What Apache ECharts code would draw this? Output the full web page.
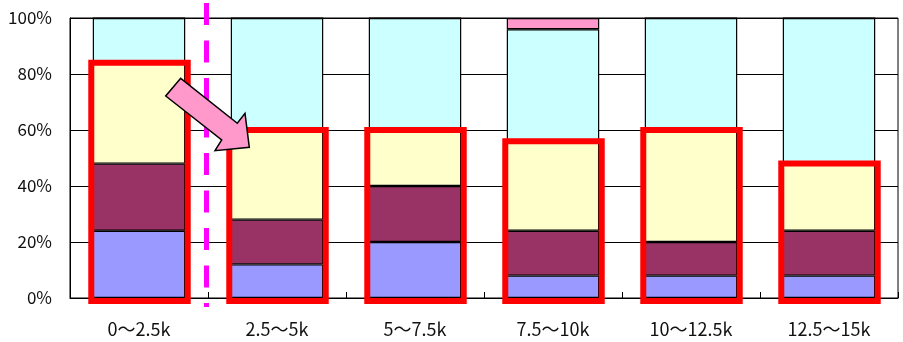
<!DOCTYPE html>
<html>
<head>
<meta charset="utf-8">
<script src="https://cdn.jsdelivr.net/npm/echarts@6/dist/echarts.min.js"></script>
<style>
  html, body { margin: 0; padding: 0; background: #ffffff; }
  #chart { width: 903px; height: 342px; }
</style>
</head>
<body>
<div id="chart"></div>
<script>
// Income bands and the share (%) of each answer group within a band
const categories = ['0～2.5k', '2.5～5k', '5～7.5k', '7.5～10k', '10～12.5k', '12.5～15k'];
const shareBlue   = [24, 12, 20, 8, 8, 8];
const shareMaroon = [24, 16, 20, 16, 12, 16];
const shareYellow = [36, 32, 20, 32, 40, 24];
const shareCyan   = [16, 40, 40, 40, 40, 52];
const sharePink   = [0, 0, 0, 4, 0, 0];
const yTicks = [0, 20, 40, 60, 80, 100];

// Height of the highlighted block = first three groups stacked
const highlightTotals = categories.map((_, i) => shareBlue[i] + shareMaroon[i] + shareYellow[i]);

const BAR_RATIO = 0.67;
const FONT = '"Noto Sans CJK JP", "Noto Sans", sans-serif';

const chart = echarts.init(document.getElementById('chart'), null, { renderer: 'canvas' });

function stackBar(name, data, color) {
  return {
    name: name,
    type: 'bar',
    stack: 'share',
    data: data,
    barWidth: (BAR_RATIO * 100) + '%',
    itemStyle: { color: color, borderColor: '#000000', borderWidth: 1.2 },
    emphasis: { disabled: true },
    z: 2
  };
}

const option = {
  backgroundColor: '#ffffff',
  animation: false,
  grid: {
    left: 70, right: 5, top: 18, bottom: 44,
    show: true, borderColor: '#000000', borderWidth: 1, backgroundColor: 'transparent'
  },
  xAxis: {
    type: 'category',
    data: categories,
    axisLine: { lineStyle: { color: '#000000', width: 1 } },
    axisTick: { show: true, inside: true, length: 6, lineStyle: { color: '#000000' } },
    axisLabel: { color: '#111111', fontSize: 18, fontFamily: FONT, margin: 22 },
    splitLine: { show: false }
  },
  yAxis: {
    type: 'value',
    min: yTicks[0],
    max: yTicks[yTicks.length - 1],
    interval: yTicks[1] - yTicks[0],
    axisLine: { show: true, lineStyle: { color: '#000000', width: 1 } },
    axisTick: { show: false },
    axisLabel: {
      color: '#111111', fontSize: 17, fontFamily: FONT, margin: 18,
      padding: [5, 0, 0, 0],
      formatter: '{value}%'
    },
    splitLine: { show: true, lineStyle: { color: '#000000', width: 1 } }
  },
  series: [
    stackBar('blue', shareBlue, '#9999ff'),
    stackBar('maroon', shareMaroon, '#993366'),
    stackBar('yellow', shareYellow, '#ffffcc'),
    stackBar('cyan', shareCyan, '#ccffff'),
    stackBar('pink', sharePink, '#ff99cc'),
    {
      // Red frames around the lower three groups of every bar
      name: 'highlight',
      type: 'custom',
      data: highlightTotals.map((v, i) => [i, v]),
      encode: { x: 0, y: 1 },
      z: 5,
      silent: true,
      renderItem: function (params, api) {
        const idx = api.value(0);
        const top = api.coord([idx, api.value(1)]);
        const base = api.coord([idx, 0]);
        const band = api.size([1, 0])[0];
        const w = band * BAR_RATIO + 4;
        return {
          type: 'rect',
          shape: { x: top[0] - w / 2 + 0.5, y: top[1], width: w, height: base[1] + 3 - top[1] },
          style: { fill: 'none', stroke: '#ff0000', lineWidth: 6 }
        };
      }
    }
  ]
};

chart.setOption(option);

// Divider between the first band and the rest, plus the pointer arrow
const c0 = chart.convertToPixel({ xAxisIndex: 0 }, 0);
const c1 = chart.convertToPixel({ xAxisIndex: 0 }, 1);
const dividerX = (c0 + c1) / 2 - 1.5;

chart.setOption({
  graphic: [
    {
      type: 'line',
      z: 50,
      silent: true,
      shape: { x1: dividerX, y1: 3, x2: dividerX, y2: 307 },
      style: { stroke: '#ff00ff', lineWidth: 5, lineDash: [22, 15.5] }
    },
    {
      type: 'polygon',
      z: 100,
      silent: true,
      shape: {
        points: [
          [180.7, 78.3],
          [237.3, 123.3],
          [245.0, 113.3],
          [249.3, 147.3],
          [215.0, 150.7],
          [221.7, 140.0],
          [165.7, 96.0]
        ]
      },
      style: { fill: '#ff99cc', stroke: '#000000', lineWidth: 1.5 }
    }
  ]
});
</script>
</body>
</html>
